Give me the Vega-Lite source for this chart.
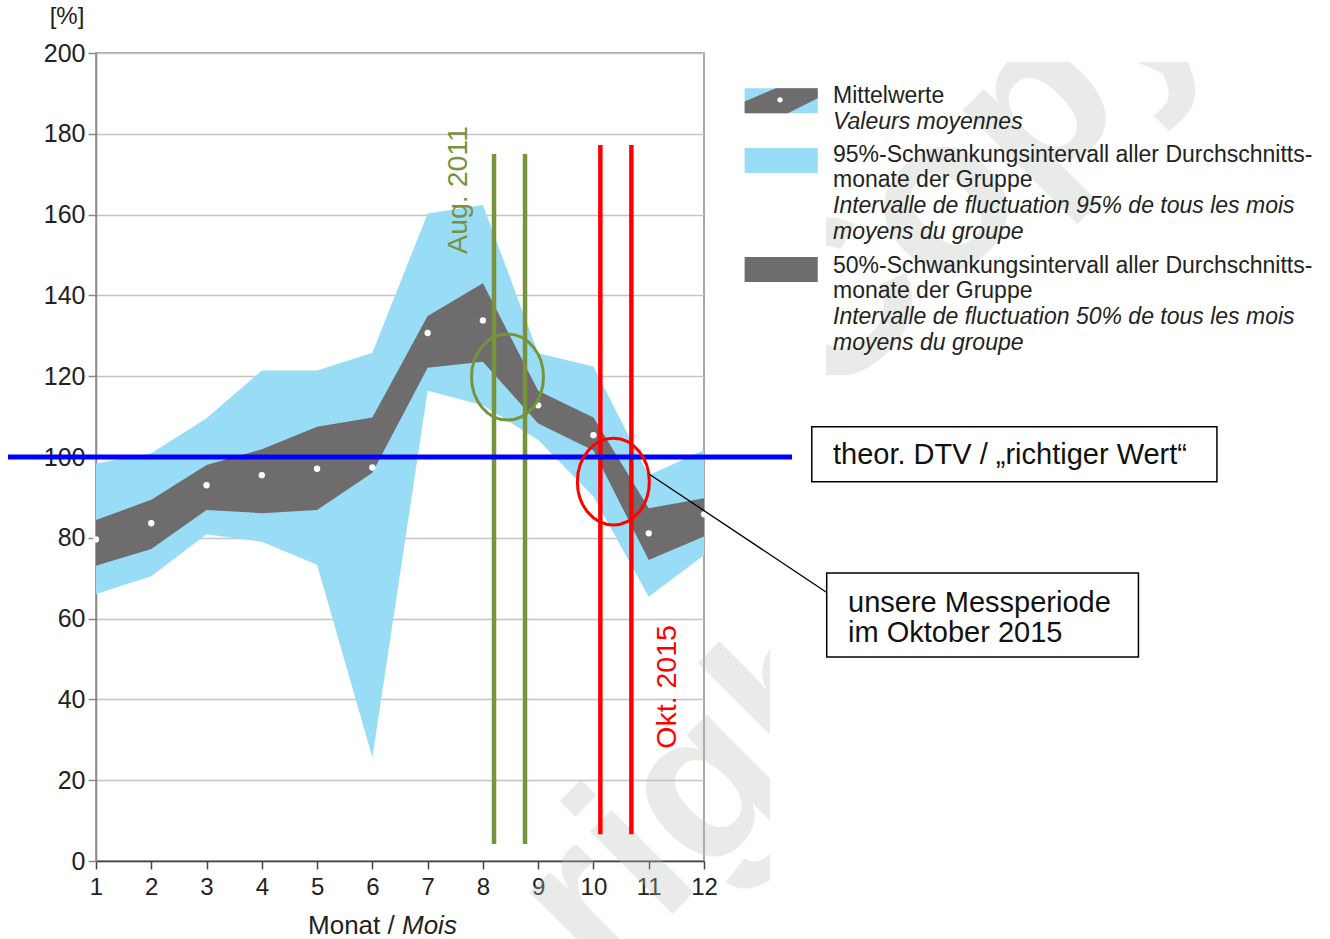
{
  "$schema": "https://vega.github.io/schema/vega-lite/v6.json",
  "width": 608,
  "height": 808,
  "autosize": {"type": "none"},
  "padding": {"left": 96, "top": 53, "right": 626, "bottom": 78},
  "background": "white",
  "config": {
    "font": "Liberation Sans",
    "view": {"stroke": "#8a8a8a", "strokeWidth": 1.5},
    "axis": {"labelFont": "Liberation Sans", "labelColor": "#222222", "labelFontSize": 24}
  },
  "datasets": {
    "bands": [
      {"month": 1, "lo95": 66.1, "hi95": 98.4, "lo50": 73.1, "hi50": 84.4, "mean": 79.6},
      {"month": 2, "lo95": 70.5, "hi95": 100.9, "lo50": 77.2, "hi50": 89.4, "mean": 83.6},
      {"month": 3, "lo95": 80.9, "hi95": 109.6, "lo50": 86.9, "hi50": 98.0, "mean": 93.0},
      {"month": 4, "lo95": 79.0, "hi95": 121.4, "lo50": 86.1, "hi50": 101.9, "mean": 95.5},
      {"month": 5, "lo95": 73.3, "hi95": 121.4, "lo50": 86.9, "hi50": 107.5, "mean": 97.1},
      {"month": 6, "lo95": 25.6, "hi95": 125.8, "lo50": 96.1, "hi50": 109.8, "mean": 97.4},
      {"month": 7, "lo95": 116.4, "hi95": 160.3, "lo50": 122.1, "hi50": 134.9, "mean": 130.7},
      {"month": 8, "lo95": 112.8, "hi95": 162.4, "lo50": 123.6, "hi50": 143.0, "mean": 133.8},
      {"month": 9, "lo95": 104.2, "hi95": 125.7, "lo50": 108.3, "hi50": 116.4, "mean": 112.8},
      {"month": 10, "lo95": 90.2, "hi95": 122.4, "lo50": 101.6, "hi50": 109.8, "mean": 105.4},
      {"month": 11, "lo95": 65.4, "hi95": 95.5, "lo50": 74.5, "hi50": 87.3, "mean": 81.1},
      {"month": 12, "lo95": 75.7, "hi95": 101.7, "lo50": 80.3, "hi50": 89.8, "mean": 85.8}
    ]
  },
  "layer": [
    {
      "data": {"values": [
        {"x": 14.226, "y": 111.63, "t": "Copyright"},
        {"x": 10.137, "y": -30.69, "t": "right"}
      ]},
      "mark": {"type": "text", "angle": -45, "align": "left", "baseline": "alphabetic", "fontSize": 220, "fontWeight": "bold",
               "color": "#b8bfb9", "opacity": 0.3, "clip": false},
      "encoding": {
        "x": {"field": "x", "type": "quantitative"},
        "y": {"field": "y", "type": "quantitative"},
        "text": {"field": "t"}
      }
    },
    {
      "data": {"values": [
        {"x": 13.196, "x2": 23.33, "y": 215, "y2": 197.8},
        {"x": 12.037, "x2": 14.208, "y": 197.8, "y2": 120.3},
        {"x": 13.196, "x2": 23.33, "y": 120.3, "y2": -25}
      ]},
      "mark": {"type": "rect", "fill": "white", "clip": false},
      "encoding": {
        "x": {"field": "x", "type": "quantitative"},
        "x2": {"field": "x2"},
        "y": {"field": "y", "type": "quantitative"},
        "y2": {"field": "y2"}
      }
    },
    {
      "data": {"name": "bands"},
      "mark": {"type": "area", "color": "#99dcf6", "opacity": 1},
      "encoding": {
        "x": {"field": "month", "type": "quantitative",
              "scale": {"domain": [1, 12], "nice": false, "zero": false},
              "axis": {"values": [1,2,3,4,5,6,7,8,9,10,11,12], "format": "d", "title": null, "grid": false,
                       "domainColor": "#444444", "domainWidth": 1.5, "tickColor": "#444444", "tickSize": 8, "tickWidth": 1.5,
                       "labelPadding": 6, "labelFlush": false}},
        "y": {"field": "hi95", "type": "quantitative",
              "scale": {"domain": [0, 200], "nice": false},
              "axis": {"values": [0,20,40,60,80,100,120,140,160,180,200], "title": null,
                       "grid": true, "gridColor": "#c4c4c4", "gridWidth": 1.5, "labelFontSize": 25,
                       "domainColor": "#8a8a8a", "domainWidth": 1.5, "tickColor": "#8a8a8a", "tickSize": 8, "tickWidth": 1.5,
                       "labelPadding": 3}},
        "y2": {"field": "lo95"}
      }
    },
    {
      "data": {"name": "bands"},
      "mark": {"type": "area", "color": "#6e6c6d", "opacity": 1},
      "encoding": {
        "x": {"field": "month", "type": "quantitative"},
        "y": {"field": "hi50", "type": "quantitative"},
        "y2": {"field": "lo50"}
      }
    },
    {
      "data": {"name": "bands"},
      "mark": {"type": "point", "filled": true, "color": "white", "opacity": 1, "size": 40},
      "encoding": {
        "x": {"field": "month", "type": "quantitative"},
        "y": {"field": "mean", "type": "quantitative"}
      }
    },
    {
      "data": {"values": [{"x": 8.201, "y": 4.2, "y2": 175.0}, {"x": 8.762, "y": 4.2, "y2": 175.0}]},
      "mark": {"type": "rule", "color": "#77933c", "strokeWidth": 4.5},
      "encoding": {
        "x": {"field": "x", "type": "quantitative"},
        "y": {"field": "y", "type": "quantitative"},
        "y2": {"field": "y2"}
      }
    },
    {
      "data": {"values": [{"x": 10.125, "y": 6.6, "y2": 177.2}, {"x": 10.686, "y": 6.6, "y2": 177.2}]},
      "mark": {"type": "rule", "color": "#ff0000", "strokeWidth": 4.5},
      "encoding": {
        "x": {"field": "x", "type": "quantitative"},
        "y": {"field": "y", "type": "quantitative"},
        "y2": {"field": "y2"}
      }
    },
    {
      "data": {"values": [{"x": -0.592, "x2": 13.593, "y": 100}]},
      "mark": {"type": "rule", "color": "#0000ff", "strokeWidth": 5, "clip": false},
      "encoding": {
        "x": {"field": "x", "type": "quantitative"},
        "x2": {"field": "x2"},
        "y": {"field": "y", "type": "quantitative"}
      }
    },
    {
      "data": {"values": [{"x": 8.445, "y": 119.8}]},
      "mark": {"type": "point", "shape": "M -0.837,0 A 0.837,1 0 1,0 0.837,0 A 0.837,1 0 1,0 -0.837,0 Z",
               "size": 7396, "filled": false, "stroke": "#77933c", "strokeWidth": 3, "opacity": 1},
      "encoding": {
        "x": {"field": "x", "type": "quantitative"},
        "y": {"field": "y", "type": "quantitative"}
      }
    },
    {
      "data": {"values": [{"x": 10.36, "y": 93.9}]},
      "mark": {"type": "point", "shape": "M -0.83,0 A 0.83,1 0 1,0 0.83,0 A 0.83,1 0 1,0 -0.83,0 Z",
               "size": 7517, "filled": false, "stroke": "#ff0000", "strokeWidth": 3, "opacity": 1},
      "encoding": {
        "x": {"field": "x", "type": "quantitative"},
        "y": {"field": "y", "type": "quantitative"}
      }
    },
    {
      "data": {"values": [{"x": 11.005, "y": 95.8, "x2": 14.208, "y2": 66.6}]},
      "mark": {"type": "rule", "color": "#000000", "strokeWidth": 1.3, "clip": false},
      "encoding": {
        "x": {"field": "x", "type": "quantitative"},
        "y": {"field": "y", "type": "quantitative"},
        "x2": {"field": "x2"},
        "y2": {"field": "y2"}
      }
    },
    {
      "data": {"values": [
        {"x": 13.95, "x2": 21.28, "y": 107.5, "y2": 93.9},
        {"x": 14.22, "x2": 19.86, "y": 71.3, "y2": 50.5}
      ]},
      "mark": {"type": "rect", "fill": "white", "stroke": "#000000", "strokeWidth": 1.5, "clip": false},
      "encoding": {
        "x": {"field": "x", "type": "quantitative"},
        "x2": {"field": "x2"},
        "y": {"field": "y", "type": "quantitative"},
        "y2": {"field": "y2"}
      }
    },
    {
      "data": {"values": [
        {"x": 14.334, "y": 100.5, "t": "theor. DTV / „richtiger Wert“"},
        {"x": 14.606, "y": 63.9, "t": "unsere Messperiode"},
        {"x": 14.606, "y": 56.4, "t": "im Oktober 2015"}
      ]},
      "mark": {"type": "text", "align": "left", "baseline": "middle", "fontSize": 29, "color": "#111111", "clip": false},
      "encoding": {
        "x": {"field": "x", "type": "quantitative"},
        "y": {"field": "y", "type": "quantitative"},
        "text": {"field": "t"}
      }
    },
    {
      "data": {"values": [{"x": 7.55, "y": 166.1, "t": "Aug. 2011"}]},
      "mark": {"type": "text", "angle": 270, "align": "center", "baseline": "middle", "fontSize": 28.5, "color": "#77933c"},
      "encoding": {
        "x": {"field": "x", "type": "quantitative"},
        "y": {"field": "y", "type": "quantitative"},
        "text": {"field": "t"}
      }
    },
    {
      "data": {"values": [{"x": 11.33, "y": 43.1, "t": "Okt. 2015"}]},
      "mark": {"type": "text", "angle": 270, "align": "center", "baseline": "middle", "fontSize": 28.5, "color": "#ff0000"},
      "encoding": {
        "x": {"field": "x", "type": "quantitative"},
        "y": {"field": "y", "type": "quantitative"},
        "text": {"field": "t"}
      }
    },
    {
      "data": {"values": [{"x": 0.475, "y": 208.9, "t": "[%]"}]},
      "mark": {"type": "text", "align": "center", "baseline": "middle", "fontSize": 24, "color": "#222222", "clip": false},
      "encoding": {
        "x": {"field": "x", "type": "quantitative"},
        "y": {"field": "y", "type": "quantitative"},
        "text": {"field": "t"}
      }
    },
    {
      "data": {"values": [{"x": 4.836, "y": -16.1, "t": "Monat /"}]},
      "mark": {"type": "text", "align": "left", "baseline": "middle", "fontSize": 26, "color": "#222222", "clip": false},
      "encoding": {
        "x": {"field": "x", "type": "quantitative"},
        "y": {"field": "y", "type": "quantitative"},
        "text": {"field": "t"}
      }
    },
    {
      "data": {"values": [{"x": 6.536, "y": -16.1, "t": "Mois"}]},
      "mark": {"type": "text", "align": "left", "baseline": "middle", "fontSize": 26, "fontStyle": "italic", "color": "#222222", "clip": false},
      "encoding": {
        "x": {"field": "x", "type": "quantitative"},
        "y": {"field": "y", "type": "quantitative"},
        "text": {"field": "t"}
      }
    },
    {
      "data": {"values": [
        {"x": 12.735, "x2": 14.058, "y": 191.3, "y2": 185.1},
        {"x": 12.735, "x2": 14.058, "y": 176.5, "y2": 170.3}
      ]},
      "mark": {"type": "rect", "fill": "#99dcf6", "clip": false},
      "encoding": {
        "x": {"field": "x", "type": "quantitative"},
        "x2": {"field": "x2"},
        "y": {"field": "y", "type": "quantitative"},
        "y2": {"field": "y2"}
      }
    },
    {
      "data": {"values": [
        {"x": 12.735, "x2": 14.058, "y": 149.5, "y2": 143.3}
      ]},
      "mark": {"type": "rect", "fill": "#6e6c6d", "clip": false},
      "encoding": {
        "x": {"field": "x", "type": "quantitative"},
        "x2": {"field": "x2"},
        "y": {"field": "y", "type": "quantitative"},
        "y2": {"field": "y2"}
      }
    },
    {
      "data": {"values": [
        {"x": 12.735, "top": 188.0, "bot": 185.1},
        {"x": 13.303, "top": 191.3, "bot": 185.1},
        {"x": 13.515, "top": 191.3, "bot": 185.1},
        {"x": 14.058, "top": 191.3, "bot": 188.8}
      ]},
      "mark": {"type": "area", "color": "#6e6c6d", "opacity": 1, "clip": false},
      "encoding": {
        "x": {"field": "x", "type": "quantitative"},
        "y": {"field": "top", "type": "quantitative"},
        "y2": {"field": "bot"}
      }
    },
    {
      "data": {"values": [{"x": 13.375, "y": 188.4}]},
      "mark": {"type": "point", "filled": true, "color": "white", "opacity": 1, "size": 28, "clip": false},
      "encoding": {
        "x": {"field": "x", "type": "quantitative"},
        "y": {"field": "y", "type": "quantitative"}
      }
    },
    {
      "data": {"values": [
        {"x": 14.334, "y": 189.4, "t": "Mittelwerte"},
        {"x": 14.334, "y": 174.8, "t": "95%-Schwankungsintervall aller Durchschnitts-"},
        {"x": 14.334, "y": 168.5, "t": "monate der Gruppe"},
        {"x": 14.334, "y": 147.3, "t": "50%-Schwankungsintervall aller Durchschnitts-"},
        {"x": 14.334, "y": 141.1, "t": "monate der Gruppe"}
      ]},
      "mark": {"type": "text", "align": "left", "baseline": "middle", "fontSize": 23, "color": "#222222", "clip": false},
      "encoding": {
        "x": {"field": "x", "type": "quantitative"},
        "y": {"field": "y", "type": "quantitative"},
        "text": {"field": "t"}
      }
    },
    {
      "data": {"values": [
        {"x": 14.334, "y": 183.0, "t": "Valeurs moyennes"},
        {"x": 14.334, "y": 162.1, "t": "Intervalle de fluctuation 95% de tous les mois"},
        {"x": 14.334, "y": 155.6, "t": "moyens du groupe"},
        {"x": 14.334, "y": 134.7, "t": "Intervalle de fluctuation 50% de tous les mois"},
        {"x": 14.334, "y": 128.3, "t": "moyens du groupe"}
      ]},
      "mark": {"type": "text", "align": "left", "baseline": "middle", "fontSize": 23, "fontStyle": "italic", "color": "#222222", "clip": false},
      "encoding": {
        "x": {"field": "x", "type": "quantitative"},
        "y": {"field": "y", "type": "quantitative"},
        "text": {"field": "t"}
      }
    }
  ]
}
